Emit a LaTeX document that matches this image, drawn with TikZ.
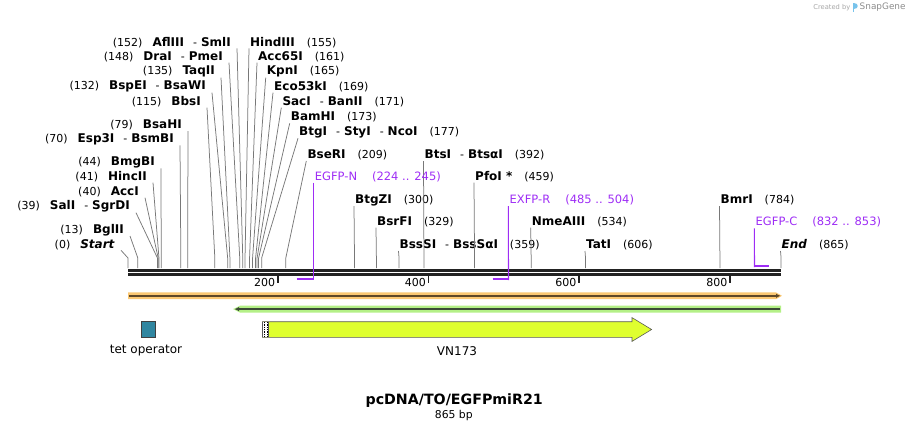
\documentclass[tikz,border=0pt]{standalone}
\usepackage{fontspec}
\setmainfont{DejaVu Sans}
\usetikzlibrary{arrows.meta, calc}

\definecolor{primer}{RGB}{158,45,245}
\definecolor{cutgray}{RGB}{120,120,120}
\definecolor{bbdark}{RGB}{34,34,34}
\definecolor{orangeband}{RGB}{251,200,115}
\definecolor{orangeline}{RGB}{95,72,40}
\definecolor{greenband}{RGB}{180,240,135}
\definecolor{greenline}{RGB}{60,75,55}
\definecolor{vnfill}{RGB}{223,255,47}
\definecolor{tetfill}{RGB}{48,134,160}
\definecolor{logoblue}{RGB}{120,195,235}

\newcommand{\enz}[1]{{\fontsize{12}{13}\selectfont\textbf{#1}}}
\newcommand{\gap}{\hspace{10pt}}
\newcommand{\rgap}{\hspace{12pt}}
\newcommand{\sepdash}{\hspace{9pt}-\hspace{4pt}}

\begin{document}
\begin{tikzpicture}[x=1pt, y=-1pt,
    lft/.style={anchor=east, inner sep=0pt, font=\fontsize{11}{13}\selectfont},
    rgt/.style={anchor=west, inner sep=0pt, font=\fontsize{11}{13}\selectfont},
    cut/.style={cutgray, line width=0.75pt},
    prm/.style={primer, line width=1.1pt},
    prmbar/.style={primer, line width=2.6pt},
    ruler/.style={bbdark, line width=2.8pt}
  ]
  \useasboundingbox (0,0) rectangle (910,432);

  % cut sites, where the lines meet the backbone
  \foreach \b in {0,13,39,40,41,44,70,79,115,132,135,148,152,155,161,165,169,171,173,177,209,300,329,359,392,459,534,606,784,865}
    \coordinate (s\b) at ({128+0.755*\b},258);

  % backbone
  \coordinate (bbL) at (128,270.5);
  \coordinate (bbR) at (781,270.5);
  \draw[ruler] (bbL) -- (bbR);
  \draw[ruler, line width=2.5pt] ([yshift=-3.9pt]bbL) -- ([yshift=-3.9pt]bbR);
  \foreach \t/\x in {200/277.7,400/428.5,600/579,800/730}{
    \draw[bbdark, line width=1.6pt] (\x,275.5) -- (\x,282.5);
    \node[anchor=east, inner sep=0pt, font=\fontsize{11}{12}\selectfont] (tick\t) at (\x-2.5,282) {\t};
  }

  % enzymes, left side
  \node[lft] (aflIII) at (231,42.3) {(152)\gap\enz{AflIII}\sepdash\enz{SmlI}};
  \node[lft] (draI)   at (223,56.7) {(148)\gap\enz{DraI}\sepdash\enz{PmeI}};
  \node[lft] (taqII)  at (215,71.7) {(135)\gap\enz{TaqII}};
  \node[lft] (bspEI)  at (206,86.7) {(132)\gap\enz{BspEI}\sepdash\enz{BsaWI}};
  \node[lft] (bbsI)   at (201,101.7) {(115)\gap\enz{BbsI}};
  \node[lft] (bsaHI)  at (182,125) {(79)\gap\enz{BsaHI}};
  \node[lft] (esp3I)  at (174,139.3) {(70)\gap\enz{Esp3I}\sepdash\enz{BsmBI}};
  \node[lft] (bmgBI)  at (155,162.3) {(44)\gap\enz{BmgBI}};
  \node[lft] (hincII) at (147,176.7) {(41)\gap\enz{HincII}};
  \node[lft] (accI)   at (139,191.7) {(40)\gap\enz{AccI}};
  \node[lft] (salI)   at (130,206.7) {(39)\gap\enz{SalI}\sepdash\enz{SgrDI}};
  \node[lft] (bglII)  at (124,230) {(13)\gap\enz{BglII}};
  \node[lft] (start)  at (115,244.3) {(0)\gap\enz{\textit{Start}}};

  \foreach \n/\b in {aflIII/152,draI/148,taqII/135,bspEI/132,bbsI/115,bsaHI/79,esp3I/70,bmgBI/44,hincII/41,accI/40,salI/39,bglII/13,start/0}
    \draw[cut] ([shift={(6,6)}]\n.east) -- (s\b) -- ++(0,10);

  % enzymes, right side
  \node[rgt] (hindIII) at (250,42.3) {\enz{HindIII}\rgap(155)};
  \node[rgt] (acc65I)  at (258,56.7) {\enz{Acc65I}\rgap(161)};
  \node[rgt] (kpnI)    at (266.7,71.7) {\enz{KpnI}\rgap(165)};
  \node[rgt] (eco53kI) at (274,86.7) {\enz{Eco53kI}\rgap(169)};
  \node[rgt] (sacI)    at (282.3,101.7) {\enz{SacI}\sepdash\enz{BanII}\rgap(171)};
  \node[rgt] (bamHI)   at (290.7,117.3) {\enz{BamHI}\rgap(173)};
  \node[rgt] (btgI)    at (299,132.3) {\enz{BtgI}\sepdash\enz{StyI}\sepdash\enz{NcoI}\rgap(177)};
  \node[rgt] (bseRI)   at (307.3,155) {\enz{BseRI}\rgap(209)};
  \node[rgt] (btsI)    at (424.5,155) {\enz{BtsI}\sepdash\enz{BtsαI}\rgap(392)};
  \node[rgt] (pfoI)    at (475,176.7) {\enz{PfoI *}\rgap(459)};
  \node[rgt] (btgZI)   at (355,200) {\enz{BtgZI}\rgap(300)};
  \node[rgt] (bsrFI)   at (377,221.7) {\enz{BsrFI}\rgap(329)};
  \node[rgt] (bssSI)   at (399.5,245) {\enz{BssSI}\sepdash\enz{BssSαI}\rgap(359)};
  \node[rgt] (nmeAIII) at (531.7,221.7) {\enz{NmeAIII}\rgap(534)};
  \node[rgt] (tatI)    at (586,245) {\enz{TatI}\rgap(606)};
  \node[rgt] (bmrI)    at (720.5,200) {\enz{BmrI}\rgap(784)};
  \node[rgt] (endLbl)  at (781.5,245) {\enz{\textit{End}}\rgap(865)};

  \foreach \n/\b in {hindIII/155,acc65I/161,kpnI/165,eco53kI/169,sacI/171,bamHI/173,btgI/177,bseRI/209,btsI/392,pfoI/459,btgZI/300,bsrFI/329,bssSI/359,nmeAIII/534,tatI/606,bmrI/784,endLbl/865}
    \draw[cut] ([shift={(-1,6)}]\n.west) -- (s\b) -- ++(0,10);

  % primers
  \node[rgt, text=primer, font=\fontsize{11.5}{13}\selectfont] (egfpN) at (314.7,176.7) {EGFP-N\hspace{15pt}(224 .. 245)};
  \node[rgt, text=primer, font=\fontsize{11.5}{13}\selectfont] (exfpR) at (509.5,200) {EXFP-R\hspace{15pt}(485 .. 504)};
  \node[rgt, text=primer, font=\fontsize{11.5}{13}\selectfont] (egfpC) at (755.5,222.3) {EGFP-C\hspace{15pt}(832 .. 853)};
  \coordinate (pN1) at (296.5,279);   \coordinate (pN2) at (313.5,279);
  \coordinate (pR1) at (492.5,279);   \coordinate (pR2) at (508.5,279);
  \coordinate (pC1) at (754.5,265.8); \coordinate (pC2) at (769,265.8);
  \draw[prmbar] (pN1) -- (pN2);
  \draw[prmbar] (pR1) -- (pR2);
  \draw[prmbar] (pC1) -- (pC2);
  \draw[prm] ([shift={(-1.2,6)}]egfpN.west) -- ([yshift=-1.2pt]pN2);
  \draw[prm] ([shift={(-1.2,6)}]exfpR.west) -- ([yshift=-1.2pt]pR2);
  \draw[prm] ([shift={(-1.2,6)}]egfpC.west) -- ([yshift=-1.2pt]pC1);

  % feature tracks
  \fill[orangeband] (128,292.4) -- (776,292.4) -- (782,295.8) -- (776,299.2) -- (128,299.2) -- cycle;
  \draw[orangeline, line width=1.8pt, -{Latex[length=4.5pt,width=4.5pt]}] (129,295.8) -- (780.5,295.8);
  \fill[greenband] (781,305.7) -- (240,305.7) -- (233,309.1) -- (240,312.5) -- (781,312.5) -- cycle;
  \draw[greenline, line width=1.8pt, -{Latex[length=4.5pt,width=4.5pt]}] (780,309.1) -- (234.5,309.1);

  % tet operator
  \node[draw=black!75, fill=tetfill, line width=0.6pt, minimum width=14.5pt, minimum height=16.5pt, inner sep=0pt] (tet) at (148.3,329.2) {};
  \node[inner sep=0pt, font=\fontsize{12}{14}\selectfont] (tetLbl) at (146,350.7) {tet operator};

  % VN173
  \draw[fill=vnfill, draw=black!65, line width=0.6pt] (262.5,321.7) -- (632,321.7) -- (632,317.6) -- (651.6,329.5) -- (632,341.4) -- (632,337.3) -- (262.5,337.3) -- cycle;
  \fill[white] (263,322) rectangle (268.2,337);
  \draw[black, densely dotted, line width=0.7pt] (264.3,322) -- (264.3,337) (267,322) -- (267,337);
  \draw[black!65, line width=0.6pt] (268.2,321.7) -- (268.2,337.3);
  \node[inner sep=0pt, font=\fontsize{12}{14}\selectfont] (vnLbl) at (457,350.7) {VN173};

  % title
  \node[inner sep=0pt, font=\fontsize{14.2}{16}\selectfont\bfseries] (title) at (454.2,401) {pcDNA/TO/EGFPmiR21};
  \node[inner sep=0pt, font=\fontsize{10.8}{13}\selectfont] (bpLbl) at (453.8,415.5) {865 bp};

  % credit
  \node[anchor=east, inner sep=0pt, text=black!35, font=\fontsize{6.7}{8}\selectfont] (made) at (850.5,7.3) {Created by};
  \fill[logoblue] (852.5,3) rectangle (854.3,12);
  \fill[logoblue] (854.3,3) .. controls (858.5,3) and (858.5,8.5) .. (854.3,8.5) -- cycle;
  \node[anchor=west, inner sep=0pt, text=black!45, font=\fontsize{8.9}{10}\selectfont] (snap) at (859.5,7.3) {SnapGene};
\end{tikzpicture}
\end{document}
